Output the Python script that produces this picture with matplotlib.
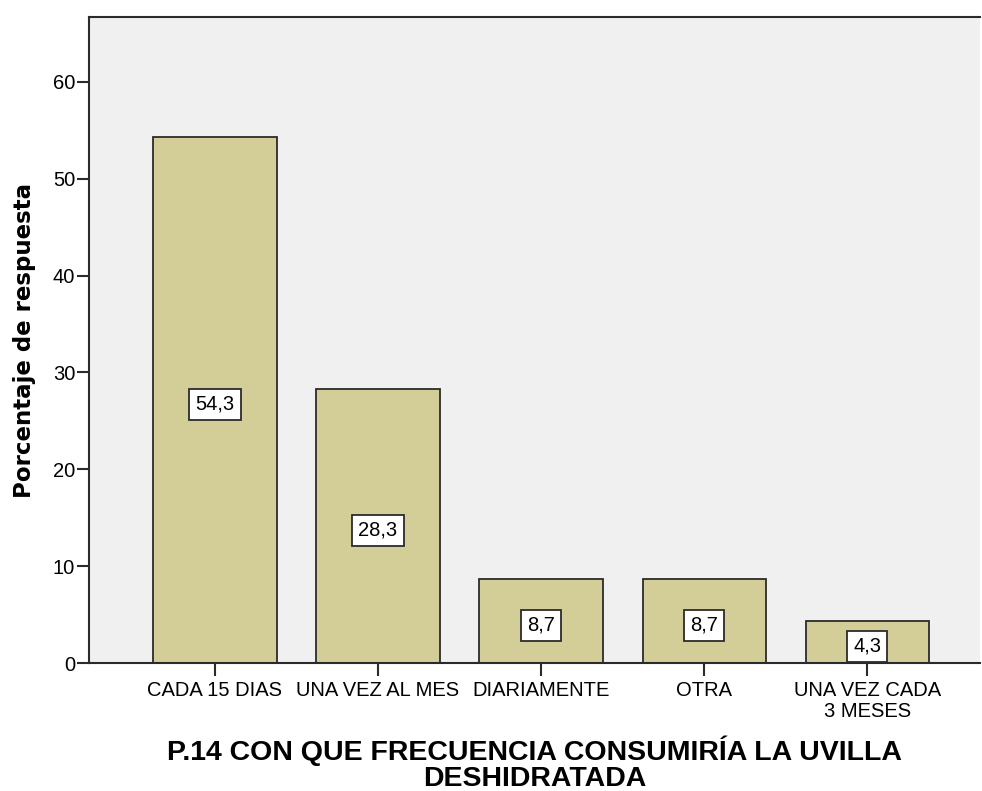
import matplotlib
matplotlib.use("Agg")
import matplotlib.pyplot as plt

categories = ["CADA 15 DIAS", "UNA VEZ AL MES", "DIARIAMENTE", "OTRA", "UNA VEZ CADA\n3 MESES"]
values = [54.3, 28.3, 8.7, 8.7, 4.3]
labels = ["54,3", "28,3", "8,7", "8,7", "4,3"]

plt.rcParams["font.family"] = ["Liberation Sans", "DejaVu Sans"]

fig = plt.figure(figsize=(9.82, 7.91), dpi=100)
ax = fig.add_axes([0.0906, 0.1618, 0.9074, 0.8167])
ax.set_facecolor("#f0f0f0")

x = list(range(len(categories)))
ax.bar(x, values, width=0.755, color="#d3ce97", edgecolor="#2b2b2b", linewidth=1.3, zorder=2)
for xi, v, lab in zip(x, values, labels):
    ax.annotate(lab, (xi, v / 2), xytext=(0, -3), textcoords="offset points",
                ha="center", va="center", fontsize=14.5, zorder=3,
                bbox=dict(boxstyle="square,pad=0.3", facecolor="white", edgecolor="#2b2b2b", linewidth=1.3))

ax.set_xlim(-0.773, 4.693)
ax.set_ylim(0, 66.7)
ax.set_yticks([0, 10, 20, 30, 40, 50, 60])
ax.set_xticks(x)
ax.set_xticklabels(categories, fontsize=14.5, linespacing=1.15)
ax.tick_params(axis="y", labelsize=14.5, length=9, width=1.5, color="#2b2b2b", pad=1)
ax.tick_params(axis="x", length=9, width=1.5, color="#2b2b2b", pad=4)
for s in ["left", "top", "bottom"]:
    ax.spines[s].set_linewidth(1.5)
    ax.spines[s].set_color("#2b2b2b")
ax.spines["right"].set_visible(False)

ax.set_ylabel("Porcentaje de respuesta", fontsize=16.5, fontweight="bold", labelpad=12,
              family="DejaVu Sans")
fig.text(534.5 / 982, (791 - 763.5) / 791,
         "P.14 CON QUE FRECUENCIA CONSUMIRÍA LA UVILLA\nDESHIDRATADA",
         ha="center", va="center", fontsize=20.5, fontweight="bold", linespacing=1.0)

fig.savefig("out.png", dpi=100)
